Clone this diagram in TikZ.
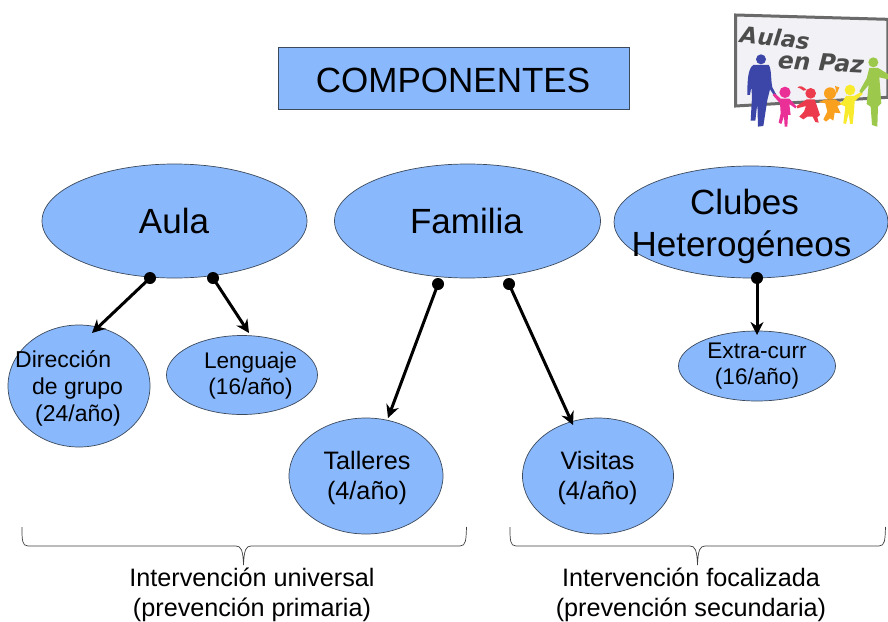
\documentclass[tikz,border=0pt]{standalone}
\usepackage{fontspec}
\setmainfont{Liberation Sans}
\newfontfamily\handfont{DejaVu Sans}
\usetikzlibrary{shapes.geometric,arrows.meta}
\definecolor{bubblefill}{HTML}{8AB8FC}
\definecolor{bubbleline}{HTML}{3C4A5C}
\definecolor{framegrey}{HTML}{6A6A6A}
\definecolor{panel}{HTML}{F2F2F6}
\definecolor{logoblue}{HTML}{3B46A8}
\definecolor{logopink}{HTML}{EA2F96}
\definecolor{logored}{HTML}{EB3B4C}
\definecolor{logoorange}{HTML}{F9A11F}
\definecolor{logoyellow}{HTML}{F8EA2C}
\definecolor{logogreen}{HTML}{9CC84B}
\tikzset{
  bubble/.style={ellipse,draw=bubbleline,fill=bubblefill,line width=0.7pt,inner sep=0pt},
  titlebox/.style={rectangle,draw=bubbleline,fill=bubblefill,line width=0.7pt,inner sep=0pt},
  biglabel/.style={font=\fontsize{35}{42}\selectfont,align=center,text=black,inner sep=0pt},
  smalllabel/.style={font=\fontsize{22.6}{26}\selectfont,align=center,text=black,inner sep=0pt},
  widelabel/.style={font=\fontsize{25.2}{30}\selectfont,align=center,text=black,inner sep=0pt},
  leftlabel/.style={font=\fontsize{23}{27}\selectfont,align=left,text=black,inner sep=0pt},
  footlabel/.style={font=\fontsize{25.2}{30}\selectfont,align=center,text=black,inner sep=0pt},
  dot/.style={circle,fill=black,inner sep=0pt,minimum size=12pt},
  link/.style={line width=3pt,black,-{Stealth[length=13pt,width=13pt]}},
  bracket/.style={draw=black!75,line width=0.7pt},
  logotext/.style={text=black!70,inner sep=0pt}
}
\begin{document}
\begin{tikzpicture}[x=1pt,y=-1pt]
\useasboundingbox (0,0) rectangle (888,621);
\clip (0,0) rectangle (888,621);
\fill[white] (0,0) rectangle (888,621);

% title
\node[titlebox,minimum width=351pt,minimum height=62pt] (title) at (453.5,78) {};
\node[font=\fontsize{35}{42}\selectfont,inner sep=0pt] (titletext) at (453,80) {COMPONENTES};

% main ellipses
\node[bubble,minimum width=265pt,minimum height=114pt] (aula) at (174.5,221) {};
\node[bubble,minimum width=266pt,minimum height=114pt] (familia) at (467.5,221) {};
\node[bubble,minimum width=274pt,minimum height=112pt] (clubes) at (751,222) {};
\node[biglabel] (aulat) at (174,221) {Aula};
\node[biglabel] (familiat) at (466.5,221) {Familia};
\node[biglabel] (clubest) at (741.5,226) {\hspace{6pt}Clubes\\Heterogéneos};

% child ellipses
\node[bubble,minimum width=142pt,minimum height=122pt] (dir) at (79,386) {};
\node[bubble,minimum width=151pt,minimum height=79pt] (len) at (242,375) {};
\node[bubble,minimum width=154pt,minimum height=116pt] (tal) at (366,476) {};
\node[bubble,minimum width=151pt,minimum height=116pt] (vis) at (598,476) {};
\node[bubble,minimum width=157pt,minimum height=70pt] (ext) at (757,366) {};
\node[leftlabel,anchor=north west] (dirt) at (15,350) {Dirección\\\hspace{17pt}de grupo\\\hspace{20pt}(24/año)};
\node[smalllabel] (lent) at (250.5,376) {Lenguaje\\(16/año)};
\node[widelabel] (talt) at (367,477.5) {Talleres\\(4/año)};
\node[widelabel] (vist) at (597.5,477.5) {Visitas\\(4/año)};
\node[smalllabel] (extt) at (757,366) {Extra-curr\\(16/año)};

% connector ends
\node[dot] (d1) at (150,278) {};
\node[dot] (d2) at (213,278) {};
\node[dot] (d3) at (438,284) {};
\node[dot] (d4) at (509,284) {};
\node[dot] (d5) at (757,278) {};
\coordinate (t1) at (92,333);
\coordinate (t2) at (249,333);
\coordinate (t3) at (388,418);
\coordinate (t4) at (573,425);
\coordinate (t5) at (757,335);
\draw[link] (d1.center) -- (t1);
\draw[link] (d2.center) -- (t2);
\draw[link] (d3.center) -- (t3);
\draw[link] (d4.center) -- (t4);
\draw[link] (d5.center) -- (t5);

% brackets
\draw[bracket] (22,527) .. controls (22,540) and (22,546) .. (28,546) -- (236,546)
  .. controls (241,546) and (243,550) .. (243.5,565)
  .. controls (244,550) and (246,546) .. (251,546) -- (460,546)
  .. controls (466,546) and (466,540) .. (466.5,527);
\draw[bracket] (510,527) .. controls (510,540) and (510,546) .. (516,546) -- (690,546)
  .. controls (695,546) and (697,550) .. (697.5,565)
  .. controls (698,550) and (700,546) .. (705,546) -- (879,546)
  .. controls (885,546) and (885,540) .. (885.5,527);
\node[footlabel] (uni) at (252,595) {Intervención universal\\(prevención primaria)};
\node[footlabel] (foc) at (691,595) {Intervención focalizada\\(prevención secundaria)};

% logo, drawn in 3x crop units from (720,0)
\begin{scope}[shift={(720,0)},x=0.3333pt,y=-0.3333pt]
\draw[draw=framegrey,fill=panel,line width=3pt] (47,45) -- (504,58) -- (504,292) -- (47,318) -- cycle;
\node[logotext,font=\handfont\fontsize{22.5}{24}\selectfont\itshape\bfseries,rotate=-6] (aulas) at (165,113) {Aulas};
\node[logotext,font=\handfont\fontsize{23.5}{24}\selectfont\itshape\bfseries,rotate=-3] (paz) at (303,187) {en Paz};
% man
\fill[logoblue] (123,178) circle[radius=15];
\fill[logoblue] (100,195) -- (146,195) .. controls (155,205) and (152,240) .. (157,262) -- (172,290) -- (166,292) -- (150,268)
  -- (142,300) -- (130,378) -- (114,380) -- (112,310) -- (106,362) -- (92,362) -- (96,290) -- (94,260) -- (90,285) -- (82,285)
  .. controls (82,240) and (84,205) .. (100,195) -- cycle;
% pink child
\fill[logopink] (195,277) circle[radius=17];
\fill[logopink] (182,296) -- (208,296) -- (230,320) -- (226,325) -- (208,312) -- (212,345) -- (204,345) -- (202,380) -- (194,380)
  -- (192,348) -- (184,372) -- (176,368) -- (182,340) -- (180,310) -- (158,285) -- (164,280) -- cycle;
% red child
\fill[logored] (272,280) circle[radius=16];
\fill[logored] (232,262) .. controls (242,255) and (250,260) .. (260,270) -- (250,272) .. controls (244,266) and (238,264) .. (232,262) -- cycle;
\fill[logored] (260,298) -- (284,298) -- (300,345) -- (292,352) -- (296,368) -- (286,366) -- (278,350) -- (262,350) -- (250,358) -- (238,350) -- (252,335) -- (258,318) -- (232,325) -- (230,318) -- cycle;
% orange child
\fill[logoorange] (330,280) circle[radius=18];
\fill[logoorange] (345,258) -- (358,262) -- (350,282) -- cycle;
\fill[logoorange] (318,298) -- (345,298) -- (368,312) -- (352,318) -- (362,340) -- (344,338) -- (340,362) -- (330,355) -- (318,365) -- (310,358) -- (322,335) -- (316,310) -- (296,306) -- cycle;
% yellow child
\fill[logoyellow] (390,270) circle[radius=16];
\fill[logoyellow] (378,288) -- (402,288) -- (425,275) -- (428,282) -- (404,304) -- (402,335) -- (398,372) -- (390,372) -- (386,340) -- (378,372) -- (370,370) -- (376,320) -- (360,312) -- (368,304) -- cycle;
% green woman
\fill[logogreen] (460,187) circle[radius=15];
\fill[logogreen] (448,204) -- (474,204) -- (504,222) -- (504,238) -- (478,232) -- (484,310) -- (474,320) -- (472,380) -- (456,375) -- (452,320) -- (440,312) -- (446,255) -- (425,280) -- (418,274) -- (440,235) -- cycle;
\end{scope}
\end{tikzpicture}
\end{document}
